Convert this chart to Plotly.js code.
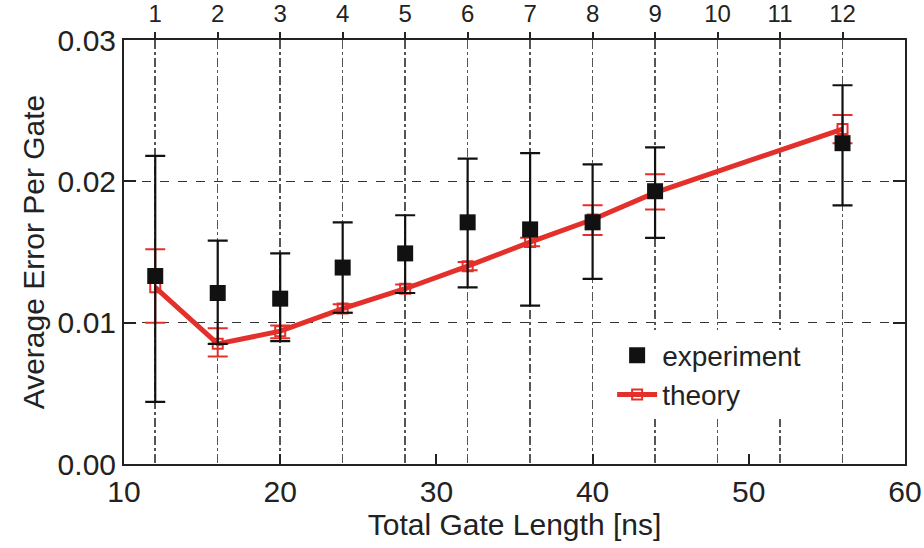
<!DOCTYPE html>
<html>
<head>
<meta charset="utf-8">
<script src="https://cdn.plot.ly/plotly-3.0.1.min.js"></script>
<style>html,body{margin:0;padding:0;background:#fff;}#chart{width:924px;height:548px;}</style>
</head>
<body>
<div id="chart"></div>
<script>
// Total gate length [ns]
const expX = [12, 16, 20, 24, 28, 32, 36, 40, 44, 56];
const expY = [0.0133, 0.0121, 0.0117, 0.0139, 0.0149, 0.0171, 0.0166, 0.0171, 0.0193, 0.0227];
const expUpper = [0.0218, 0.0158, 0.0149, 0.0171, 0.0176, 0.0216, 0.0220, 0.0212, 0.0224, 0.0268];
const expLower = [0.0044, 0.0085, 0.0087, 0.0107, 0.0121, 0.0125, 0.0112, 0.0131, 0.0160, 0.0183];

const theoryX = [12, 16, 20, 24, 28, 32, 36, 40, 44, 56];
const theoryY = [0.0125, 0.0085, 0.0094, 0.0110, 0.0124, 0.0140, 0.0157, 0.0173, 0.0192, 0.0237];
const theoryUpper = [0.0152, 0.0096, 0.0098, 0.0113, 0.0127, 0.0143, 0.0160, 0.0183, 0.0205, 0.0247];
const theoryLower = [0.0100, 0.0076, 0.0089, 0.0107, 0.0121, 0.0137, 0.0154, 0.0162, 0.0180, 0.0227];

const xTickVals = [10, 20, 30, 40, 50, 60];
const topTickVals = [12, 16, 20, 24, 28, 32, 36, 40, 44, 48, 52, 56];
const topTickText = ['1', '2', '3', '4', '5', '6', '7', '8', '9', '10', '11', '12'];
const yTickVals = [0, 0.01, 0.02, 0.03];

const diff = (a, b) => a.map((v, i) => v - b[i]);

const FONT = '"Liberation Sans", Arial, sans-serif';

const traces = [
  {
    x: theoryX, y: theoryY, name: 'theory', type: 'scatter', mode: 'lines+markers',
    xaxis: 'x', yaxis: 'y',
    legendrank: 2,
    line: {color: '#e3302b', width: 5},
    marker: {symbol: 'square-open', size: 10, color: '#e3302b', line: {width: 2, color: '#e3302b'}},
    error_y: {type: 'data', symmetric: false, array: diff(theoryUpper, theoryY), arrayminus: diff(theoryY, theoryLower), color: '#e3302b', thickness: 2, width: 10}
  },
  {
    x: expX, y: expY, name: 'experiment', type: 'scatter', mode: 'markers',
    xaxis: 'x2', yaxis: 'y',
    legendrank: 1,
    marker: {symbol: 'square', size: 16, color: '#111111'},
    error_y: {type: 'data', symmetric: false, array: diff(expUpper, expY), arrayminus: diff(expY, expLower), color: '#111111', thickness: 2.2, width: 10}
  }
];

const layout = {
  width: 924, height: 548,
  margin: {l: 124, r: 19, t: 40, b: 84},
  paper_bgcolor: '#ffffff', plot_bgcolor: '#ffffff',
  font: {family: FONT, color: '#222', size: 30},
  showlegend: true,
  legend: {x: 0.625, y: 0.315, xanchor: 'left', yanchor: 'top', bgcolor: '#ffffff', font: {size: 28, family: FONT, color: '#222'}, tracegroupgap: 0, itemwidth: 40},
  xaxis: {
    range: [10, 60], tickvals: xTickVals, ticks: 'inside', ticklen: 10, tickwidth: 2, tickcolor: '#222',
    showline: true, linecolor: '#222', linewidth: 2, showgrid: false, zeroline: false,
    tickfont: {size: 30, family: FONT, color: '#222'},
    title: {text: 'Total Gate Length [ns]', font: {size: 30, family: FONT, color: '#222'}, standoff: 4}
  },
  xaxis2: {
    overlaying: 'x', side: 'top', anchor: 'y', range: [10, 60],
    tickvals: topTickVals, ticktext: topTickText, ticks: 'outside', ticklen: 6, tickwidth: 2, tickcolor: '#222',
    showline: true, linecolor: '#222', linewidth: 2,
    showgrid: true, gridcolor: '#555', gridwidth: 1.5, griddash: 'dashdot', zeroline: false,
    tickfont: {size: 24, family: FONT, color: '#222'}
  },
  yaxis: {
    range: [0, 0.03], tickvals: yTickVals, tickformat: '.2f', ticks: 'inside', ticklen: 12, tickwidth: 2, tickcolor: '#222',
    showline: true, linecolor: '#222', linewidth: 2, mirror: 'ticks',
    showgrid: true, gridcolor: '#333', gridwidth: 1.5, griddash: 'dash', zeroline: false,
    tickfont: {size: 30, family: FONT, color: '#222'},
    title: {text: 'Average Error Per Gate', font: {size: 30, family: FONT, color: '#222'}, standoff: 4}
  }
};

Plotly.newPlot('chart', traces, layout, {displayModeBar: false, staticPlot: true});
</script>
</body>
</html>
